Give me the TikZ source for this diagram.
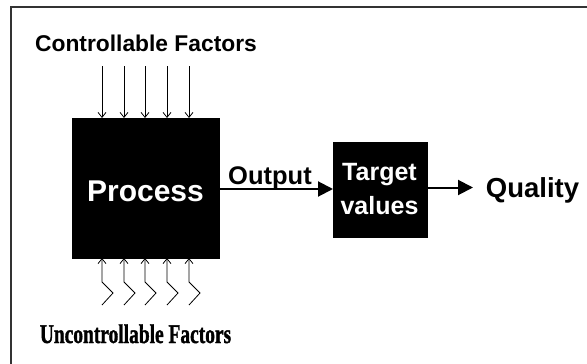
\documentclass[tikz,border=0pt]{standalone}
\usepackage{fontspec}
\setmainfont{Liberation Sans}
\newfontfamily\heavyserif[BoldFeatures={FakeBold=1.6}]{Liberation Serif}
\usetikzlibrary{arrows.meta}
\begin{document}
\begin{tikzpicture}[x=1pt,y=-1pt,
  blk/.style={fill=black,draw=black,inner sep=0pt,outer sep=0pt},
  lbl/.style={font=\bfseries,inner sep=0pt,anchor=base},
  thinarrow/.style={line width=0.8pt,-{Straight Barb[length=5pt,width=8pt]}},
  thickarrow/.style={line width=2pt,-{Triangle[length=15pt,width=15pt]}}]
\useasboundingbox (0,0) rectangle (587,364);
% frame
\draw[line width=1.5pt,draw=black!80] (11,370) -- (11,7) -- (595,7);
% blocks
\node[blk,minimum width=147pt,minimum height=140pt] (proc) at (145.5,188) {};
\node[lbl,text=white,font=\bfseries\fontsize{30}{30}\selectfont] (proctxt) at (145.5,201) {Process};
\node[blk,minimum width=94pt,minimum height=95pt] (tgt) at (380,189.5) {};
\node[lbl,text=white,font=\bfseries\fontsize{25}{25}\selectfont] (tgt1) at (379.5,180) {Target};
\node[lbl,text=white,font=\bfseries\fontsize{25}{25}\selectfont] (tgt2) at (379.5,214) {values};
% labels
\node[lbl,font=\bfseries\fontsize{22.8}{22.8}\selectfont] (ctrl) at (146,51.5) {Controllable Factors};
\node[lbl,font=\bfseries\fontsize{25.5}{25.5}\selectfont] (out) at (270,184.5) {Output};
\node[lbl,font=\bfseries\fontsize{27.5}{27.5}\selectfont] (qual) at (532.5,197) {Quality};
\node[inner sep=0pt,anchor=base,xscale=0.72] (unc) at (135.5,343) {\heavyserif\bfseries\fontsize{27}{27}\selectfont Uncontrollable Factors};
% controllable inputs
\foreach \i/\x in {1/102,2/124,3/145,4/167,5/189}{
  \coordinate (c\i) at (\x,66);
  \draw[thinarrow] (c\i) -- (c\i |- proc.north);
}
% uncontrollable inputs
\foreach \i/\x in {1/102,2/124,3/145,4/167,5/189}{
  \coordinate (u\i) at (\x,305);
  \draw[thinarrow] (u\i) -- ++(11,-12) -- ++(-11,-11) -- (u\i |- proc.south);
}
% output chain
\draw[thickarrow] (proc.east |- 0,189) -- (tgt.west |- 0,189);
\draw[thickarrow] (tgt.east |- 0,187.5) -- (473,187.5) coordinate (qarrow);
\end{tikzpicture}
\end{document}
